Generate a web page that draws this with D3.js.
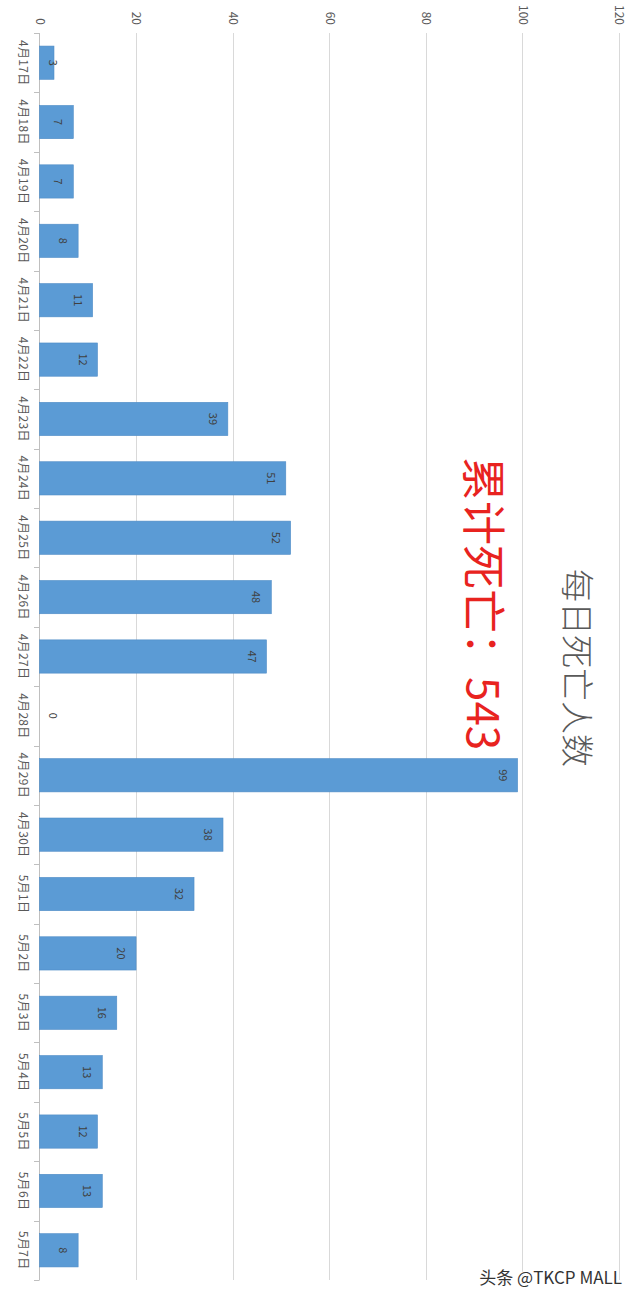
<!DOCTYPE html>
<html><head><meta charset="utf-8">
<script src="https://cdn.jsdelivr.net/npm/d3@7"></script>
<style>body{margin:0;background:#fff}svg{display:block}</style>
</head><body>
<script>
const categories = ["4月17日","4月18日","4月19日","4月20日","4月21日","4月22日","4月23日","4月24日","4月25日","4月26日","4月27日","4月28日","4月29日","4月30日","5月1日","5月2日","5月3日","5月4日","5月5日","5月6日","5月7日"];
const deaths = [3,7,7,8,11,12,39,51,52,48,47,0,99,38,32,20,16,13,12,13,8];
const valueTicks = [0,20,40,60,80,100,120];
const titleText = "每日死亡人数";
const totalText = "累计死亡：543";
const watermark = "头条 @TKCP MALL";

const W = 640, H = 1301;
const svg = d3.select("body").append("svg").attr("width", W).attr("height", H);
const font = "'Noto Sans CJK SC','Noto Sans',sans-serif";

const x = d3.scaleLinear().domain([0,120]).range([39.5,619]);
const y = d3.scaleBand().domain(categories).range([33,1280]).paddingInner(0.44).paddingOuter(0.22);

// gridlines
svg.append("g").selectAll("line").data(valueTicks.slice(1)).join("line")
  .attr("x1", d=>Math.round(x(d))+0.5).attr("x2", d=>Math.round(x(d))+0.5)
  .attr("y1", 33).attr("y2", 1280)
  .attr("stroke", "#d9d9d9").attr("stroke-width", 1);

// value axis (top) with rotated labels
const ax = svg.append("g").attr("transform","translate(0,25)")
  .call(d3.axisTop(x).tickValues(valueTicks).tickSize(0).tickPadding(0));
ax.select(".domain").remove();
ax.selectAll("text")
  .attr("transform","rotate(90)").attr("x",0).attr("y",0)
  .attr("dy","0.35em").attr("text-anchor","end")
  .attr("fill","#595959").style("font-family",font).style("font-size","12px");

// category axis line + ticks
const bounds = d3.range(categories.length+1).map(i => 33 + i*(1247/categories.length));
svg.append("line").attr("x1",39.5).attr("x2",39.5).attr("y1",33).attr("y2",1280)
  .attr("stroke","#bfbfbf");
svg.append("g").selectAll("line").data(bounds).join("line")
  .attr("x1",34).attr("x2",39.5).attr("y1",d=>Math.round(d)+0.5).attr("y2",d=>Math.round(d)+0.5)
  .attr("stroke","#bfbfbf");

// category labels
svg.append("g").selectAll("text").data(categories).join("text")
  .attr("transform", d=>`translate(23.5,${y(d)+y.bandwidth()/2}) rotate(90)`)
  .attr("text-anchor","middle").attr("dy","0.35em")
  .attr("fill","#595959").style("font-family",font).style("font-size","12px")
  .style("letter-spacing","0.3px")
  .text(d=>d);

// bars
svg.append("g").selectAll("rect").data(deaths).join("rect")
  .attr("x", x(0)).attr("y", (d,i)=>y(categories[i]))
  .attr("width", d=>x(d)-x(0)).attr("height", y.bandwidth())
  .attr("fill","#5b9bd5").attr("stroke","#4f8cc6").attr("stroke-width",0.6);

// data labels
svg.append("g").selectAll("text").data(deaths).join("text")
  .attr("transform",(d,i)=>`translate(${Math.max(x(d)-15, x(0)+13)},${y(categories[i])+y.bandwidth()/2}) rotate(90)`)
  .attr("text-anchor","middle").attr("dy","0.35em")
  .attr("fill","#404040").style("font-family",font).style("font-size","11px")
  .text(d=>d);

// title
svg.append("text").attr("transform","translate(577,668) rotate(90)")
  .attr("text-anchor","middle").attr("dy","0.35em")
  .attr("fill","#595959").style("font-family",font).style("font-size","33px").style("font-weight","300")
  .text(titleText);

// total
svg.append("text").attr("transform","translate(482,457) rotate(90)")
  .attr("text-anchor","start").attr("dy","0.35em")
  .attr("fill","#e8231f").style("font-family",font).style("font-size","44px")
  .text(totalText);

// watermark
svg.append("text").attr("x",622).attr("y",1284).attr("text-anchor","end")
  .attr("fill","#333").style("font-family",font).style("font-size","17px")
  .attr("stroke","#fff").attr("stroke-width",2).attr("paint-order","stroke")
  .text(watermark);
</script>
</body></html>
